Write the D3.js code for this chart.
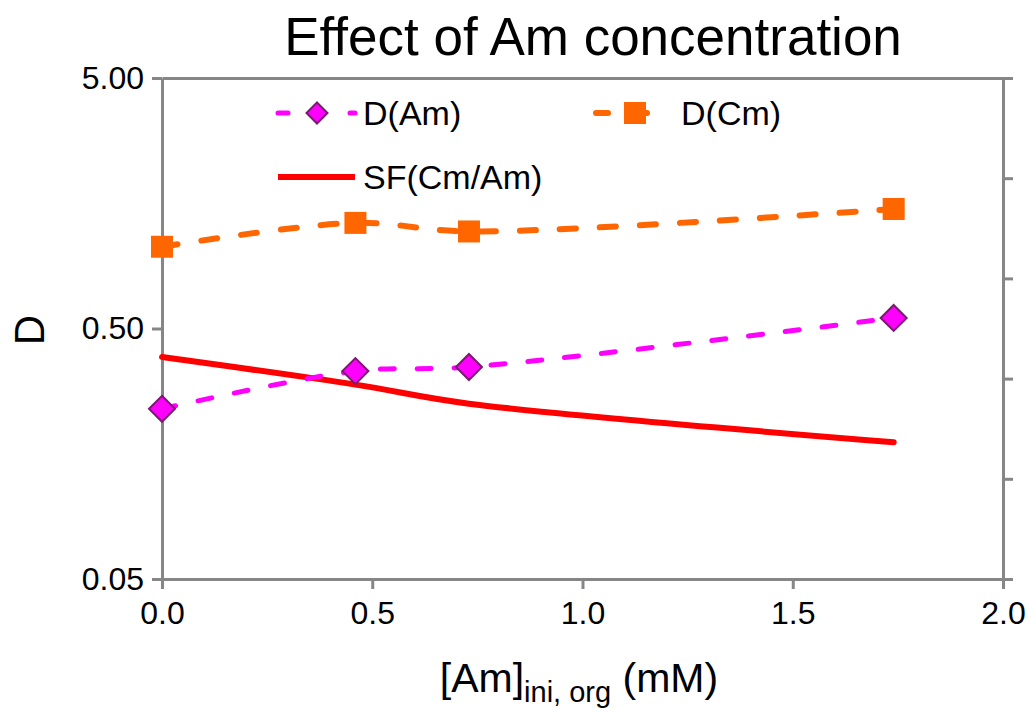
<!DOCTYPE html>
<html lang="en">
<head>
 <meta charset="UTF-8" />
 <title>Effect of Am concentration</title>
 <script src="https://d3js.org/d3.v7.min.js"></script>
 <style>
   body { margin: 0; background: #fff; }
   svg { display: block; font-family: "Liberation Sans", Arial, sans-serif; }
   .axis path, .axis line { stroke: #868686; stroke-width: 3px; }
   .axis text { fill: #000; font-size: 32px; font-family: "Liberation Sans", Arial, sans-serif; }
 </style>
</head>
<body>
 <svg id="chart" width="1030" height="708"></svg>

 <script>
   // data
   const concAm  = [0, 0.46, 0.73, 1.74];          // [Am]ini,org (mM)
   const dAm     = [0.239, 0.338, 0.351, 0.551];    // D(Am), left log axis
   const dCm     = [1.06, 1.32, 1.22, 1.50];        // D(Cm), left log axis
   const sfCmAm  = [4.43, 3.88, 3.50, 2.73];        // SF(Cm/Am), right axis
   const xTicks  = [0, 0.5, 1.0, 1.5, 2.0];
   const yTicks  = [0.05, 0.5, 5];
   const y2Ticks = [0, 2, 4, 6, 8, 10];

   const svg = d3.select("#chart");

   const margin = { top: 78, right: 27, bottom: 129, left: 162 };
   const w = 1030 - margin.left - margin.right;
   const h = 708 - margin.top - margin.bottom;

   const g = svg.append("g")
     .attr("transform", `translate(${margin.left},${margin.top})`);

   const x = d3.scaleLinear().domain([0, 2]).range([0, w]);
   const y = d3.scaleLog().domain([0.05, 5]).range([h, 0]);
   const y2 = d3.scaleLinear().domain([0, 10]).range([h, 0]);

   // axes
   g.append("g")
     .attr("class", "axis")
     .attr("transform", `translate(0,${h})`)
     .call(d3.axisBottom(x).tickValues(xTicks).tickSize(10).tickSizeOuter(0).tickPadding(12)
       .tickFormat(d3.format(".1f")));

   g.append("g")
     .attr("class", "axis")
     .call(d3.axisTop(x).tickValues([]).tickSizeOuter(0));

   g.append("g")
     .attr("class", "axis")
     .call(d3.axisLeft(y).tickValues(yTicks).tickSize(10).tickSizeOuter(0).tickPadding(8)
       .tickFormat(d3.format(".2f")));

   g.append("g")
     .attr("class", "axis")
     .attr("transform", `translate(${w},0)`)
     .call(d3.axisRight(y2).tickValues(y2Ticks).tickSize(10).tickSizeOuter(0).tickFormat(""));

   g.selectAll(".axis path").attr("fill", "none");

   // series
   const pts = (vals) => concAm.map((c, i) => ({ x: c, v: vals[i] }));

   const lineL = d3.line().curve(d3.curveCatmullRom.alpha(0.5))
     .x(d => x(d.x)).y(d => y(d.v));
   const lineR = d3.line().curve(d3.curveCatmullRom.alpha(0.5))
     .x(d => x(d.x)).y(d => y2(d.v));

   g.append("path")
     .datum(pts(sfCmAm))
     .attr("fill", "none")
     .attr("stroke", "#ff0000")
     .attr("stroke-width", 6)
     .attr("stroke-linecap", "round")
     .attr("d", lineR);

   g.append("path")
     .datum(pts(dCm))
     .attr("fill", "none")
     .attr("stroke", "#ff6600")
     .attr("stroke-width", 6)
     .attr("stroke-linecap", "round")
     .attr("stroke-dasharray", "16,24")
     .attr("d", lineL);

   g.append("path")
     .datum(pts(dAm))
     .attr("fill", "none")
     .attr("stroke", "#ff00ff")
     .attr("stroke-width", 5)
     .attr("stroke-linecap", "round")
     .attr("stroke-dasharray", "14,23")
     .attr("d", lineL);

   const diamond = (r) => `M0,${-r}L${r},0L0,${r}L${-r},0Z`;

   g.selectAll(".sq")
     .data(pts(dCm))
     .enter().append("rect")
       .attr("x", d => x(d.x) - 11)
       .attr("y", d => y(d.v) - 11)
       .attr("width", 22).attr("height", 22)
       .attr("fill", "#ff6600");

   g.selectAll(".dia")
     .data(pts(dAm))
     .enter().append("path")
       .attr("transform", d => `translate(${x(d.x)},${y(d.v)})`)
       .attr("d", diamond(13))
       .attr("fill", "#ff00ff")
       .attr("stroke", "#7a1a6e")
       .attr("stroke-width", 2);

   // legend
   const legend = svg.append("g");
   const legendItems = [
     { name: "D(Am)", x: 278, y: 113 },
     { name: "D(Cm)", x: 596, y: 113 },
     { name: "SF(Cm/Am)", x: 278, y: 177 }
   ];

   legendItems.forEach(it => {
     const l = legend.append("line")
       .attr("x1", it.x).attr("x2", it.x + 77)
       .attr("y1", it.y).attr("y2", it.y)
       .attr("stroke-linecap", "round");
     if (it.name === "D(Am)") {
       l.attr("stroke", "#ff00ff").attr("stroke-width", 5).attr("stroke-dasharray", "10,26");
       legend.append("path")
         .attr("transform", `translate(${it.x + 39},${it.y})`)
         .attr("d", diamond(10.5))
         .attr("fill", "#ff00ff")
         .attr("stroke", "#7a1a6e")
         .attr("stroke-width", 2);
     } else if (it.name === "D(Cm)") {
       l.attr("stroke", "#ff6600").attr("stroke-width", 6).attr("stroke-dasharray", "12,27");
       legend.append("rect")
         .attr("x", it.x + 28).attr("y", it.y - 11)
         .attr("width", 22).attr("height", 22)
         .attr("fill", "#ff6600");
     } else {
       l.attr("stroke", "#ff0000").attr("stroke-width", 6).attr("stroke-linecap", "butt");
     }
     legend.append("text")
       .attr("x", it.x + 85).attr("y", it.y)
       .attr("dy", "0.36em")
       .attr("font-size", "34px")
       .text(it.name);
   });

   // titles
   svg.append("text")
     .attr("x", 593).attr("y", 55)
     .attr("text-anchor", "middle")
     .attr("font-size", "53px")
     .text("Effect of Am concentration");

   svg.append("text")
     .attr("transform", "translate(44,330) rotate(-90)")
     .attr("text-anchor", "middle")
     .attr("font-size", "42px")
     .text("D");

   const xt = svg.append("text")
     .attr("x", 579).attr("y", 692)
     .attr("text-anchor", "middle")
     .attr("font-size", "41px");
   xt.append("tspan").text("[Am]");
   xt.append("tspan").attr("font-size", "29px").attr("dy", 10).text("ini, org");
   xt.append("tspan").attr("dy", -10).text(" (mM)");
 </script>
</body>
</html>
